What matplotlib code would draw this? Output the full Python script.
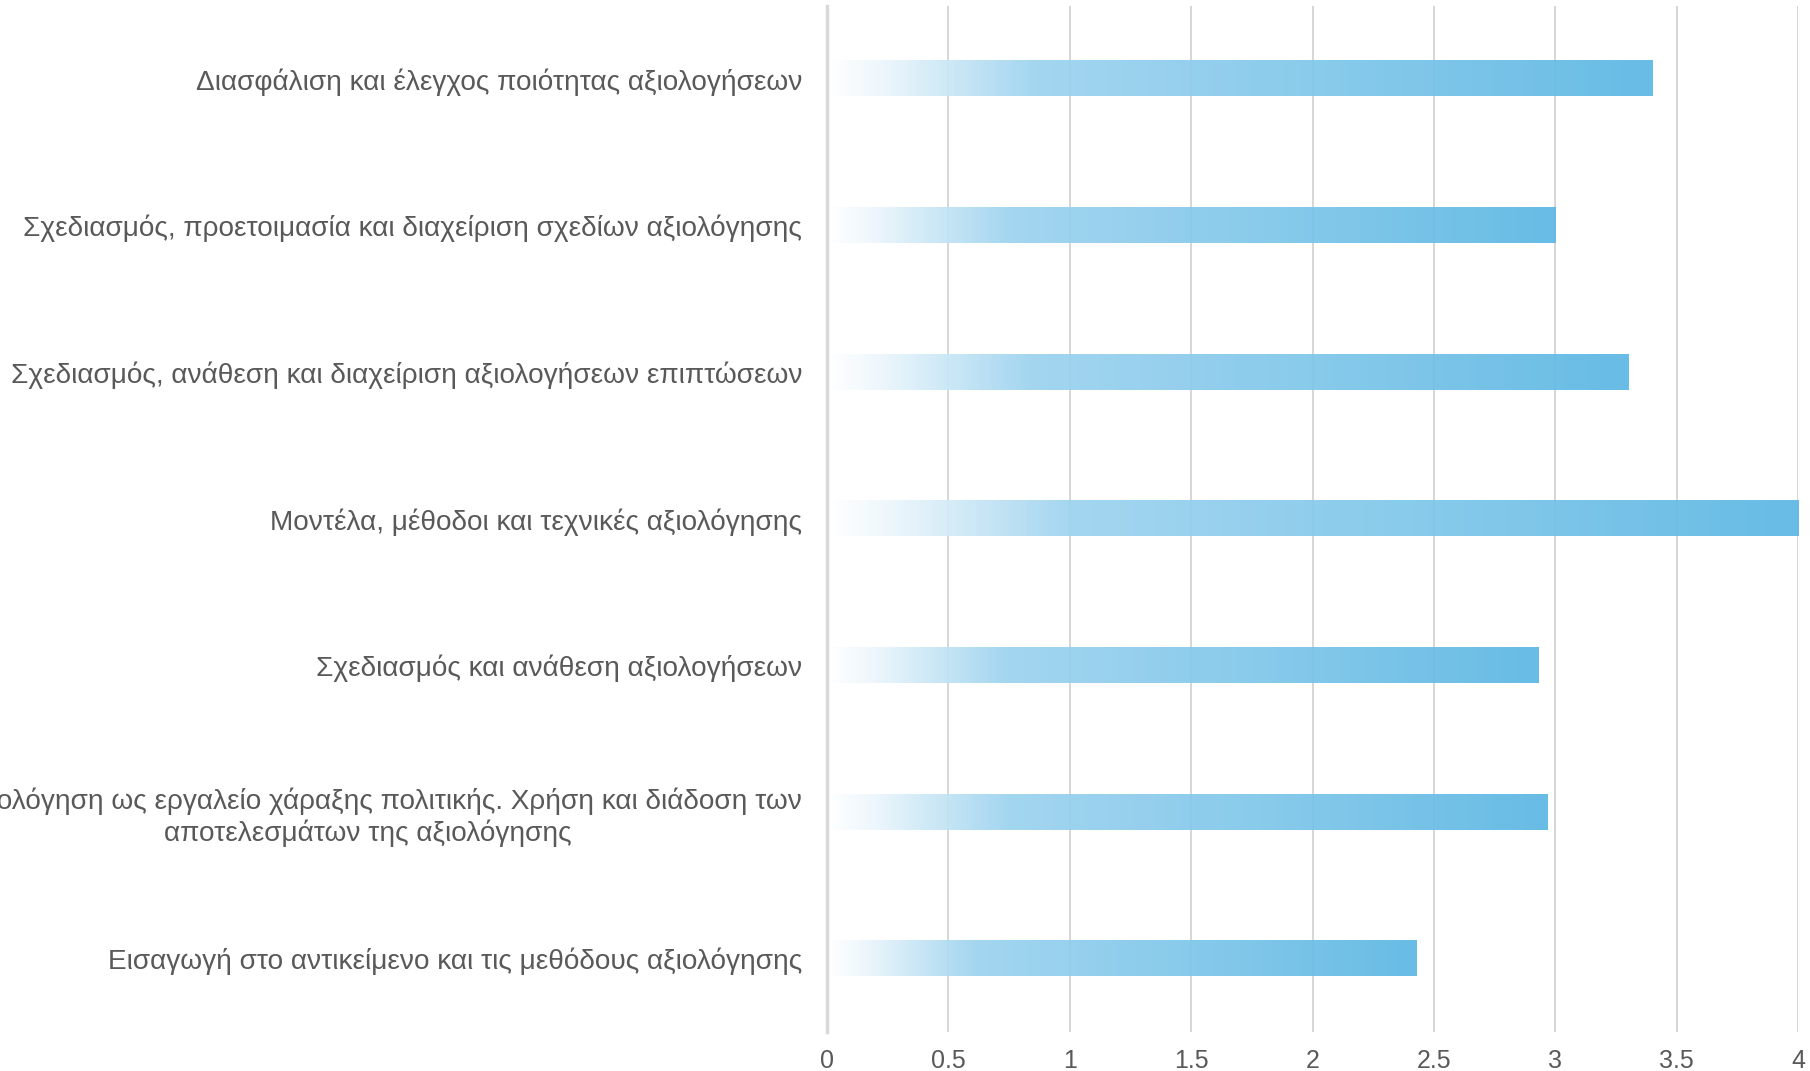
import numpy as np
import matplotlib
matplotlib.use("Agg")
import matplotlib.pyplot as plt
from matplotlib.colors import LinearSegmentedColormap

plt.rcParams['font.family'] = ['Liberation Sans', 'DejaVu Sans']

# κατηγορίες (από κάτω προς τα πάνω) και τιμές
categories = [
    "Εισαγωγή στο αντικείμενο και τις μεθόδους αξιολόγησης",
    "Η αξιολόγηση ως εργαλείο χάραξης πολιτικής. Χρήση και διάδοση των\nαποτελεσμάτων της αξιολόγησης",
    "Σχεδιασμός και ανάθεση αξιολογήσεων",
    "Μοντέλα, μέθοδοι και τεχνικές αξιολόγησης",
    "Σχεδιασμός, ανάθεση και διαχείριση αξιολογήσεων επιπτώσεων",
    "Σχεδιασμός, προετοιμασία και διαχείριση σχεδίων αξιολόγησης",
    "Διασφάλιση και έλεγχος ποιότητας αξιολογήσεων",
]
values = [2.43, 2.97, 2.93, 4.0, 3.3, 3.0, 3.4]
xticks = [0, 0.5, 1, 1.5, 2, 2.5, 3, 3.5, 4]
xticklabels = ['0', '0.5', '1', '1.5', '2', '2.5', '3', '3.5', '4']

text_color = '#595959'
grid_color = '#d3d3d3'

# οριζόντια διαβάθμιση: σχεδόν λευκό -> γαλάζιο
grad = LinearSegmentedColormap.from_list('bar_grad', [
    (0.0, '#ffffff'),
    (0.06, '#eef7fc'),
    (0.25, '#9dd3ef'),
    (0.6, '#80c7ea'),
    (1.0, '#5cb7e4'),
])

fig = plt.figure(figsize=(18.10, 10.71), dpi=100)
ax = fig.add_axes([827 / 1810, 1 - 1032 / 1071, (1798 - 827) / 1810, (1032 - 5.5) / 1071])

y = np.arange(len(categories))
bar_h = 0.24
bars = ax.barh(y, values, height=bar_h, color='none', edgecolor='none', zorder=3)

ramp = np.linspace(0, 1, 256).reshape(1, -1)
for rect, v in zip(bars.patches, values):
    y0 = rect.get_y()
    ax.imshow(ramp, cmap=grad, aspect='auto', interpolation='bilinear',
              extent=(0, v, y0, y0 + bar_h), zorder=3, alpha=0.93)

ax.set_xlim(0, 4)
ax.set_ylim(-0.5, len(categories) - 0.5)

ax.set_xticks(xticks)
ax.set_xticklabels(xticklabels)
ax.set_yticks(y)
ax.set_yticklabels(categories, ha='right', multialignment='center')

ax.tick_params(axis='x', length=0, pad=12, labelsize=18, labelcolor=text_color)
ax.tick_params(axis='y', length=0, pad=18, labelsize=20.2, labelcolor=text_color)

ax.xaxis.grid(True, color=grid_color, linewidth=1.3, zorder=0)
ax.set_axisbelow(True)

for side in ['top', 'right', 'bottom']:
    ax.spines[side].set_visible(False)
ax.spines['left'].set_color('#d9d9d9')
ax.spines['left'].set_linewidth(2.5)
ax.spines['left'].set_zorder(4)

fig.savefig('out.png', dpi=100, facecolor='white')
